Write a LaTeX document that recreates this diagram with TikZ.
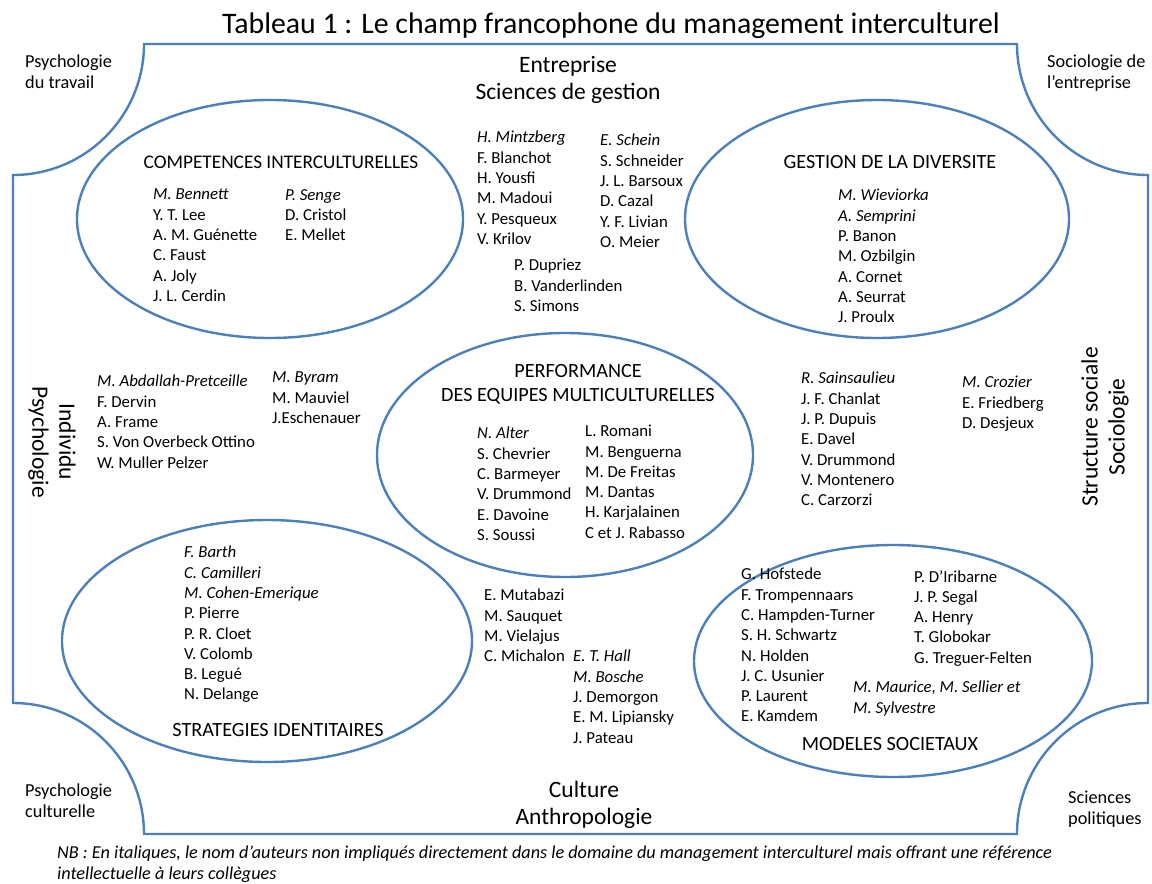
\documentclass[tikz,border=0pt]{standalone}
\usepackage{fontspec}
\setmainfont{Carlito}
\usepackage{tikz}
\definecolor{cadre}{RGB}{76,128,188}

\begin{document}
\begin{tikzpicture}[x=1pt, y=-1pt,
  trait/.style={draw=cadre, line width=2.4pt},
  noms/.style={anchor=north west, align=left, inner sep=0pt, font=\fontsize{16.8}{20.3}\selectfont},
  theme/.style={inner sep=0pt, align=center, font=\fontsize{20.2}{24}\selectfont},
  champ/.style={inner sep=0pt, align=center, font=\fontsize{23.5}{27}\selectfont},
  coin/.style={anchor=north west, align=left, inner sep=0pt, font=\fontsize{18.3}{21}\selectfont}]
  \useasboundingbox (0,0) rectangle (1152,884);

  \node [anchor=base, inner sep=0pt, font=\fontsize{29.8}{34}\selectfont] (titre) at (611,33) {Tableau 1 : Le champ francophone du management interculturel};

  % cadre aux coins creuses
  \draw [trait] (144,44) -- (1017,44) .. controls (1017,116.3) and (1075.7,175) .. (1148,175)
    -- (1148,703) .. controls (1075.7,703) and (1017,761.7) .. (1017,834)
    -- (144,834) .. controls (144,761.7) and (85.3,703) .. (13,703)
    -- (13,175) .. controls (85.3,175) and (144,116.3) .. (144,44) -- cycle;

  \node [coin] (travail) at (25,55) {Psychologie\\du travail};
  \node [coin] (socent) at (1047,55) {Sociologie de\\l’entreprise};
  \node [coin] (psycult) at (25,784) {Psychologie\\culturelle};
  \node [coin] (scpol) at (1068,791) {Sciences\\politiques};

  \node [champ, anchor=north] (entreprise) at (568,56) {Entreprise\\Sciences de gestion};
  \node [champ, anchor=north] (culture) at (584,781) {Culture\\Anthropologie};
  \node [champ, rotate=-90] (individu) at (52,442) {Individu\\Psychologie};
  \node [champ, rotate=90] (structure) at (1105,427) {Structure sociale\\Sociologie};

  % les cinq domaines
  \draw [trait] (270,219) ellipse [x radius=193, y radius=119];
  \draw [trait] (877,219) ellipse [x radius=192, y radius=119];
  \draw [trait] (565,455) ellipse [x radius=188, y radius=122];
  \draw [trait] (267,641) ellipse [x radius=205, y radius=121];
  \draw [trait] (893,661) ellipse [x radius=199, y radius=116];

  \node [theme, anchor=base, font=\fontsize{19.3}{24}\selectfont] (competences) at (281,168.5) {COMPETENCES INTERCULTURELLES};
  \node [noms] (comp1) at (153,189) {\textit{M. Bennett}\\Y. T. Lee\\A. M. Guénette\\C. Faust\\A. Joly\\J. L. Cerdin};
  \node [noms] (comp2) at (285,189) {\textit{P. Senge}\\D. Cristol\\E. Mellet};

  \node [theme, anchor=base] (diversite) at (890,168.5) {GESTION DE LA DIVERSITE};
  \node [noms] (div1) at (838,189) {\textit{M. Wieviorka}\\\textit{A. Semprini}\\P. Banon\\M. Ozbilgin\\A. Cornet\\A. Seurrat\\J. Proulx};

  \node [noms] (gest1) at (477,131) {\textit{H. Mintzberg}\\F. Blanchot\\H. Yousfi\\M. Madoui\\Y. Pesqueux\\V. Krilov};
  \node [noms] (gest2) at (600,134) {\textit{E. Schein}\\S. Schneider\\J. L. Barsoux\\D. Cazal\\Y. F. Livian\\O. Meier};
  \node [noms] (gest3) at (514,259) {P. Dupriez\\B. Vanderlinden\\S. Simons};

  \node [theme, anchor=north] (performance) at (578,364.5) {PERFORMANCE\\DES EQUIPES MULTICULTURELLES};
  \node [noms] (perf1) at (477,427) {\textit{N. Alter}\\S. Chevrier\\C. Barmeyer\\V. Drummond\\E. Davoine\\S. Soussi};
  \node [noms] (perf2) at (585,425) {L. Romani\\M. Benguerna\\M. De Freitas\\M. Dantas\\H. Karjalainen\\C et J. Rabasso};

  \node [noms] (indiv1) at (97,375) {\textit{M. Abdallah-Pretceille}\\F. Dervin\\A. Frame\\S. Von Overbeck Ottino\\W. Muller Pelzer};
  \node [noms] (indiv2) at (272,372) {\textit{M. Byram}\\M. Mauviel\\J.Eschenauer};

  \node [noms] (socio1) at (801,372) {\textit{R. Sainsaulieu}\\J. F. Chanlat\\J. P. Dupuis\\E. Davel\\V. Drummond\\V. Montenero\\C. Carzorzi};
  \node [noms] (socio2) at (962,376) {\textit{M. Crozier}\\E. Friedberg\\D. Desjeux};

  \node [noms] (strat) at (184,546) {\textit{F. Barth}\\\textit{C. Camilleri}\\\textit{M. Cohen-Emerique}\\P. Pierre\\P. R. Cloet\\V. Colomb\\B. Legué\\N. Delange};
  \node [theme, anchor=base] (identitaires) at (278,736.5) {STRATEGIES IDENTITAIRES};

  \node [noms] (cult1) at (484,589) {E. Mutabazi\\M. Sauquet\\M. Vielajus\\C. Michalon};
  \node [noms] (cult2) at (573,650) {\textit{E. T. Hall}\\\textit{M. Bosche}\\J. Demorgon\\E. M. Lipiansky\\J. Pateau};

  \node [noms] (mod1) at (741,568) {G. Hofstede\\F. Trompennaars\\C. Hampden-Turner\\S. H. Schwartz\\N. Holden\\J. C. Usunier\\P. Laurent\\E. Kamdem};
  \node [noms] (mod2) at (914,570) {P. D’Iribarne\\J. P. Segal\\A. Henry\\T. Globokar\\G. Treguer-Felten};
  \node [noms] (mod3) at (853,681) {\textit{M. Maurice, M. Sellier et}\\\textit{M. Sylvestre}};
  \node [theme, anchor=base] (societaux) at (890,750.5) {MODELES SOCIETAUX};

  \node [noms, font=\fontsize{18.2}{20.5}\selectfont\itshape] (nb) at (57,846) {NB : En italiques, le nom d’auteurs non impliqués directement dans le domaine du management interculturel mais offrant une référence\\intellectuelle à leurs collègues};
\end{tikzpicture}
\end{document}
